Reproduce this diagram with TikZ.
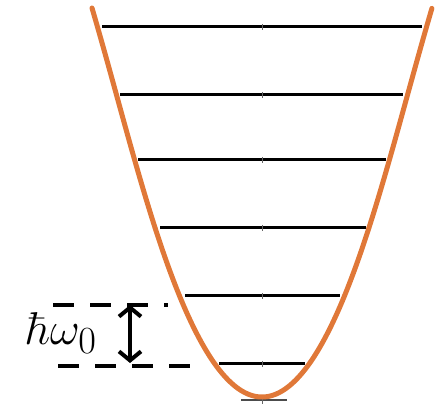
\documentclass[tikz,border=0pt]{standalone}
\usepackage{graphicx}
\usetikzlibrary{arrows.meta}
\definecolor{potorange}{RGB}{224,120,56}
\begin{document}
\begin{tikzpicture}[x=1pt,y=-1pt,
  level/.style={line width=3pt,black},
  tick/.style={line width=0.8pt,black!60},
  gapline/.style={line width=4pt,black,dash pattern=on 21pt off 16pt},
  potential/.style={line width=5pt,potorange,line cap=round}]
\useasboundingbox (0,0) rectangle (440,406);
% energy levels
\foreach \y/\a/\b in {27/102/422, 95/120/403, 160/138/386, 228/160/366, 296/185/340, 364/219/305}{
  \draw[level] (\a,\y) -- (\b,\y);
  \draw[tick] (262,\y-3) -- (262,\y+3);
}
\draw[line width=1.5pt,black!70] (241,400) -- (287,400);
\draw[tick] (262,396) -- (262,404);
% potential
\draw[potential] plot[domain=-1:1,samples=161,smooth,variable=\t]
  ({262+161.7*\t+8.3*\t*(\t*\t)^3*abs(\t)},{397-389*\t*\t});
% spacing marker
\draw[gapline] (53,305) -- (168,305);
\draw[gapline] (58,366) -- (192,366);
\coordinate (top) at (130,305);
\coordinate (bot) at (130,363);
\draw[line width=4pt,{Straight Barb[length=9pt,width=22pt]}-{Straight Barb[length=9pt,width=22pt]}] (top) -- (bot);
\node[anchor=base west,inner sep=0pt,font=\Huge] (lbl) at (26,345) {\scalebox{1.85}{$\hbar\omega_0$}};
\end{tikzpicture}
\end{document}
